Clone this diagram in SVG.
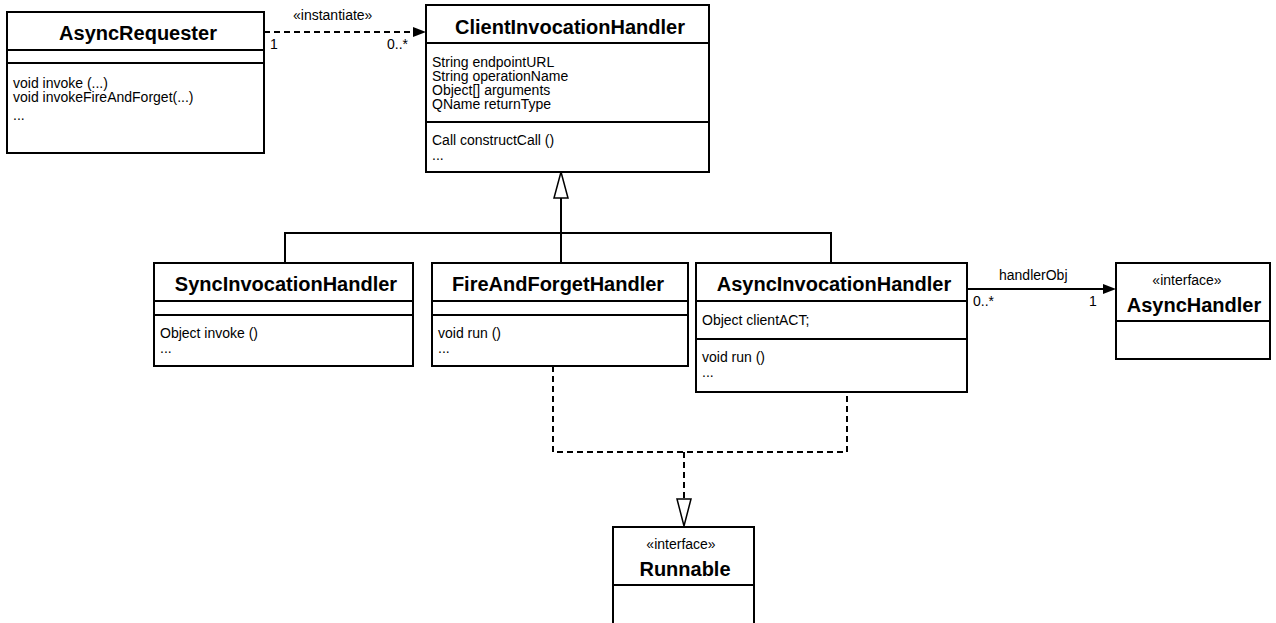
<svg xmlns="http://www.w3.org/2000/svg" width="1276" height="623" viewBox="0 0 1276 623">
<style>
.box{fill:#fff;stroke:#000;stroke-width:2}
.sep{stroke:#000;stroke-width:2}
.title{font-family:"Liberation Sans",Arial,sans-serif;font-weight:bold;font-size:20px;text-anchor:middle;fill:#000}
.mem{font-family:"Liberation Sans",Arial,sans-serif;font-size:14px;fill:#000}
.st{font-family:"Liberation Sans",Arial,sans-serif;font-size:14px;text-anchor:middle;fill:#000}
.lbl{font-family:"Liberation Sans",Arial,sans-serif;font-size:14px;fill:#000}
.line{fill:none;stroke:#000;stroke-width:2}
.dash{fill:none;stroke:#000;stroke-width:2;stroke-dasharray:6,4}
</style>
<rect width="1276" height="623" fill="#fff"/>
<g id="connectors">
  <path class="dash" d="M264,32 H414"/>
  <polygon points="426,32 413,27 413,37" fill="#000"/>
  <text class="lbl" x="293" y="20">«instantiate»</text>
  <text class="lbl" x="270" y="49">1</text>
  <text class="lbl" x="387" y="49">0..*</text>

  <path class="line" d="M285,263 V233 H831 V263"/>
  <path class="line" d="M561,263 V198"/>
  <polygon points="561,172 554,198 568,198" fill="#fff" stroke="#000" stroke-width="1.5"/>

  <path class="line" d="M967,289 H1104"/>
  <polygon points="1116,289 1103,284 1103,294" fill="#000"/>
  <text class="lbl" x="999" y="280">handlerObj</text>
  <text class="lbl" x="973" y="306">0..*</text>
  <text class="lbl" x="1089" y="306">1</text>

  <path class="dash" d="M553,366 V452 H847 V392"/>
  <path class="dash" d="M684,452 V499"/>
  <polygon points="684,526 677,499 691,499" fill="#fff" stroke="#000" stroke-width="1.5"/>
</g>
<g id="AsyncRequester">
  <rect class="box" x="7" y="12" width="257" height="141"/>
  <line class="sep" x1="7" y1="50" x2="264" y2="50"/>
  <line class="sep" x1="7" y1="63" x2="264" y2="63"/>
  <text class="title" x="138" y="40">AsyncRequester</text>
  <text class="mem" x="13" y="88">void invoke (...)</text>
  <text class="mem" x="13" y="102">void invokeFireAndForget(...)</text>
  <text class="mem" x="13" y="120">...</text>
</g>
<g id="ClientInvocationHandler">
  <rect class="box" x="426" y="5" width="283" height="167"/>
  <line class="sep" x1="426" y1="43" x2="709" y2="43"/>
  <line class="sep" x1="426" y1="122" x2="709" y2="122"/>
  <text class="title" x="570" y="34">ClientInvocationHandler</text>
  <text class="mem" x="432" y="67">String endpointURL</text>
  <text class="mem" x="432" y="81">String operationName</text>
  <text class="mem" x="432" y="95">Object[] arguments</text>
  <text class="mem" x="432" y="109">QName returnType</text>
  <text class="mem" x="432" y="145">Call constructCall ()</text>
  <text class="mem" x="432" y="160">...</text>
</g>
<g id="SyncInvocationHandler">
  <rect class="box" x="154" y="263" width="259" height="103"/>
  <line class="sep" x1="154" y1="301" x2="413" y2="301"/>
  <line class="sep" x1="154" y1="315" x2="413" y2="315"/>
  <text class="title" x="286" y="291">SyncInvocationHandler</text>
  <text class="mem" x="160" y="338">Object invoke ()</text>
  <text class="mem" x="160" y="353">...</text>
</g>
<g id="FireAndForgetHandler">
  <rect class="box" x="432" y="263" width="256" height="103"/>
  <line class="sep" x1="432" y1="301" x2="688" y2="301"/>
  <line class="sep" x1="432" y1="315" x2="688" y2="315"/>
  <text class="title" x="558" y="291">FireAndForgetHandler</text>
  <text class="mem" x="438" y="338">void run ()</text>
  <text class="mem" x="438" y="353">...</text>
</g>
<g id="AsyncInvocationHandler">
  <rect class="box" x="696" y="263" width="271" height="129"/>
  <line class="sep" x1="696" y1="301" x2="967" y2="301"/>
  <line class="sep" x1="696" y1="339" x2="967" y2="339"/>
  <text class="title" x="834" y="291">AsyncInvocationHandler</text>
  <text class="mem" x="702" y="325">Object clientACT;</text>
  <text class="mem" x="702" y="362">void run ()</text>
  <text class="mem" x="702" y="377">...</text>
</g>
<g id="AsyncHandler">
  <rect class="box" x="1116" y="263" width="154" height="96"/>
  <line class="sep" x1="1116" y1="321" x2="1270" y2="321"/>
  <text class="st" x="1187" y="285">«interface»</text>
  <text class="title" x="1194" y="312">AsyncHandler</text>
</g>
<g id="Runnable">
  <rect class="box" x="613" y="527" width="141" height="110"/>
  <line class="sep" x1="613" y1="585" x2="754" y2="585"/>
  <text class="st" x="681" y="549">«interface»</text>
  <text class="title" x="685" y="576">Runnable</text>
</g>
</svg>
